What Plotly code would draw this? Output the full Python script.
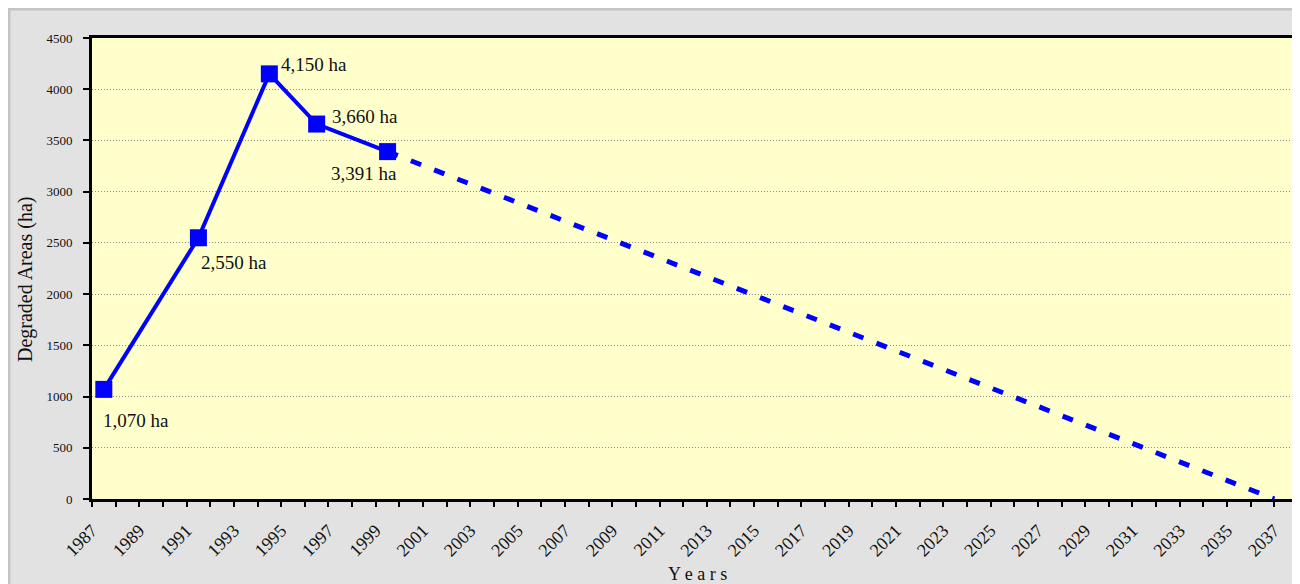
import plotly.graph_objects as go

# ---- data ----
obs_years = [1987.5, 1991.5, 1994.5, 1996.5, 1999.5]
obs_values = [1070, 2550, 4150, 3660, 3391]
proj_years = [1999.5, 2037.0]
proj_values = [3391, 0]
x_tick_years = list(range(1987, 2038, 2))
y_ticks = list(range(0, 4501, 500))

FONT = "Liberation Serif, Times New Roman, serif"
BLUE = "#0000ff"
TXT = "#111111"

fig = go.Figure()
fig.add_trace(go.Scatter(
    x=proj_years, y=proj_values, mode="lines",
    line=dict(color=BLUE, width=5, dash="11px,14px"),
    hoverinfo="skip", showlegend=False))
fig.add_trace(go.Scatter(
    x=obs_years, y=obs_values, mode="lines+markers",
    line=dict(color=BLUE, width=4),
    marker=dict(symbol="square", size=17, color=BLUE),
    showlegend=False))

# label placement (styling): anchor, xshift, yshift
label_pos = [("left", -3, -31), ("left", 1, -25), ("left", 10, 9),
             ("left", 13, 8), ("right", 11, -22)]
for xv, yv, (anc, dx, dy) in zip(obs_years, obs_values, label_pos):
    fig.add_annotation(x=xv, y=yv, xref="x", yref="y", text=f"{yv:,} ha",
                       showarrow=False, xanchor=anc, yanchor="middle",
                       xshift=dx, yshift=dy,
                       font=dict(family=FONT, size=19, color=TXT))

W, H = 1292, 576
L, R, T, B = 84, 2, 30, 85
pw, ph = W - L - R, H - T - B

def pxx(x):  # figure pixel -> paper x
    return (x - L) / pw

def pxy(y):  # figure pixel -> paper y
    return (H - B - y) / ph

# axis titles
fig.add_annotation(xref="paper", yref="paper", x=pxx(17), y=pxy(272),
                   text="Degraded Areas (ha)", textangle=-90, showarrow=False,
                   xanchor="center", yanchor="middle",
                   font=dict(family=FONT, size=20, color=TXT))
fig.add_annotation(xref="paper", yref="paper", x=pxx(689), y=pxy(566),
                   text="Y e a r s", showarrow=False,
                   xanchor="center", yanchor="middle",
                   font=dict(family=FONT, size=18, color=TXT))

# light grey frame line at the top and left edges of the figure
fig.add_shape(type="path", xref="paper", yref="paper", layer="below",
              path=f"M {pxx(1)} {pxy(H + 10)} L {pxx(1)} {pxy(1)} L {pxx(W + 10)} {pxy(1)}",
              line=dict(color="#c4c4c4", width=3))

fig.update_layout(
    width=W, height=H,
    margin=dict(l=L, r=R, t=T, b=B, autoexpand=False),
    paper_bgcolor="#e2e2e2",
    plot_bgcolor="#ffffcc",
    font=dict(family=FONT, color=TXT),
    xaxis=dict(
        range=[1987, 2038], tickmode="array", tickvals=x_tick_years,
        ticktext=[str(y) for y in x_tick_years], tickangle=-45,
        ticks="outside", ticklen=5, tickwidth=2, tickcolor="black",
        minor=dict(dtick=1, tick0=1987, ticks="outside", ticklen=5,
                   tickwidth=2, tickcolor="black", showgrid=False),
        showgrid=False, zeroline=False,
        showline=True, linecolor="black", linewidth=3, mirror=True,
        tickfont=dict(family=FONT, size=18, color=TXT),
        ticklabelstandoff=6,
        automargin=False, fixedrange=True),
    yaxis=dict(
        range=[0, 4500], tickmode="array", tickvals=y_ticks,
        ticktext=[str(v) for v in y_ticks],
        ticks="outside", ticklen=6, tickwidth=2, tickcolor="black",
        showgrid=True, gridcolor="#8c8c8c", griddash="1px,2px", gridwidth=1,
        zeroline=False,
        showline=True, linecolor="black", linewidth=3, mirror=True,
        tickfont=dict(family=FONT, size=13, color=TXT),
        ticklabelstandoff=8,
        automargin=False, fixedrange=True),
)

fig.write_html("out.html")
